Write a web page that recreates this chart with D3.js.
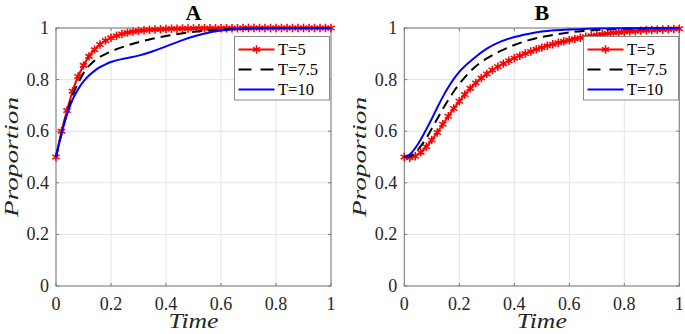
<!DOCTYPE html>
<html>
<head>
<meta charset="utf-8">
<script src="https://cdn.jsdelivr.net/npm/d3@7"></script>
<style>
  body { margin: 0; background: #fff; }
  svg { display: block; }
  text { font-family: "Liberation Serif", "Times New Roman", serif; }
</style>
</head>
<body>
<svg id="chart"></svg>
<script>
// time grid of the T=5 series (marker every step)
var tRed = [0,0.02,0.04,0.06,0.08,0.10,0.12,0.14,0.16,0.18,0.20,0.22,0.24,0.26,0.28,0.30,0.32,0.34,0.36,0.38,0.40,0.42,0.44,0.46,0.48,0.50,
  0.52,0.54,0.56,0.58,0.60,0.62,0.64,0.66,0.68,0.70,0.72,0.74,0.76,0.78,0.80,0.82,0.84,0.86,0.88,0.90,0.92,0.94,0.96,0.98,1.00];
// time grid of the T=7.5 and T=10 series
var tLine = [0,0.02,0.04,0.06,0.08,0.1,0.12,0.14,0.16,0.18,0.2,0.25,0.3,0.35,0.4,0.45,0.5,0.55,0.6,0.65,0.7,0.8,0.9,1];

var a_T5 = [0.500,0.600,0.680,0.755,0.812,0.855,0.890,0.916,0.936,0.951,0.962,0.970,0.977,0.982,0.986,0.989,0.991,0.993,0.994,0.995,0.996,0.997,0.997,0.998,0.998,0.998,
  0.999,0.999,0.999,0.999,0.999,0.999,0.999,0.999,1,1,1,1,1,1,1,1,1,1,1,1,1,1,1,1,1];
var a_T75 = [0.5,0.59,0.67,0.74,0.785,0.825,0.853,0.873,0.888,0.899,0.909,0.929,0.945,0.958,0.969,0.978,0.985,0.990,0.994,0.997,0.998,1,1,1];
var a_T10 = [0.5,0.59,0.665,0.722,0.762,0.793,0.816,0.834,0.848,0.859,0.868,0.882,0.893,0.909,0.929,0.949,0.967,0.981,0.990,0.995,0.998,1,1,1];

var b_T5 = [0.500,0.497,0.503,0.518,0.540,0.566,0.595,0.627,0.658,0.688,0.716,0.742,0.766,0.787,0.806,0.822,0.837,0.850,0.862,0.873,0.883,0.892,0.901,0.909,0.917,0.924,
  0.931,0.937,0.943,0.948,0.953,0.958,0.962,0.966,0.970,0.973,0.976,0.979,0.981,0.983,0.985,0.987,0.988,0.990,0.991,0.992,0.993,0.994,0.995,0.996,0.997];
var b_T75 = [0.5,0.503,0.518,0.542,0.573,0.61,0.648,0.686,0.721,0.754,0.783,0.842,0.882,0.911,0.934,0.952,0.965,0.975,0.983,0.988,0.992,0.997,0.999,1];
var b_T10 = [0.5,0.51,0.535,0.568,0.607,0.648,0.692,0.733,0.770,0.803,0.830,0.880,0.920,0.947,0.965,0.977,0.986,0.991,0.994,0.996,0.998,0.999,1,1];

var ticks = [0, 0.2, 0.4, 0.6, 0.8, 1];
var tickLabels = ['0', '0.2', '0.4', '0.6', '0.8', '1'];
var seriesNames = ['T=5', 'T=7.5', 'T=10'];
var panelTitles = ['A', 'B'];

var W = 685, H = 334;
var svg = d3.select('#chart').attr('width', W).attr('height', H);

// six-armed asterisk marker
function star(r) {
  var c = r * 0.866, s = r / 2;
  return 'M0,' + (-r) + 'L0,' + r +
         'M' + (-c) + ',' + (-s) + 'L' + c + ',' + s +
         'M' + (-c) + ',' + s + 'L' + c + ',' + (-s);
}

function panel(opt) {
  var x = d3.scaleLinear().domain([0, 1]).range([opt.x0, opt.x1]);
  var y = d3.scaleLinear().domain([0, 1]).range([286, 28]);
  var g = svg.append('g');

  // grid
  g.selectAll('.gx').data(ticks).enter().append('line')
    .attr('x1', function (d) { return x(d); }).attr('x2', function (d) { return x(d); })
    .attr('y1', y(0)).attr('y2', y(1))
    .attr('stroke', '#e3e3e3').attr('stroke-width', 1);
  g.selectAll('.gy').data(ticks).enter().append('line')
    .attr('y1', function (d) { return y(d); }).attr('y2', function (d) { return y(d); })
    .attr('x1', x(0)).attr('x2', x(1))
    .attr('stroke', '#e3e3e3').attr('stroke-width', 1);

  // box
  g.append('rect')
    .attr('x', x(0)).attr('y', y(1))
    .attr('width', x(1) - x(0)).attr('height', y(0) - y(1))
    .attr('fill', 'none').attr('stroke', '#7a7a7a').attr('stroke-width', 1);

  // inward ticks, all four sides
  var tl = 3;
  ticks.forEach(function (d) {
    g.append('line').attr('x1', x(d)).attr('x2', x(d)).attr('y1', y(0)).attr('y2', y(0) - tl).attr('stroke', '#7a7a7a');
    g.append('line').attr('x1', x(d)).attr('x2', x(d)).attr('y1', y(1)).attr('y2', y(1) + tl).attr('stroke', '#7a7a7a');
    g.append('line').attr('y1', y(d)).attr('y2', y(d)).attr('x1', x(0)).attr('x2', x(0) + tl).attr('stroke', '#7a7a7a');
    g.append('line').attr('y1', y(d)).attr('y2', y(d)).attr('x1', x(1)).attr('x2', x(1) - tl).attr('stroke', '#7a7a7a');
  });

  // tick labels
  g.selectAll('.xl').data(ticks).enter().append('text')
    .attr('x', function (d) { return x(d); }).attr('y', 310)
    .attr('text-anchor', 'middle')
    .style('font-size', '18px').attr('fill', '#262626')
    .text(function (d, i) { return tickLabels[i]; });
  g.selectAll('.yl').data(ticks).enter().append('text')
    .attr('x', x(0) - 7).attr('y', function (d) { return y(d) + 6; })
    .attr('text-anchor', 'end')
    .style('font-size', '18px').attr('fill', '#262626')
    .text(function (d, i) { return tickLabels[i]; });

  // axis labels
  g.append('text')
    .attr('x', (x(0) + x(1)) / 2).attr('y', 328)
    .attr('text-anchor', 'middle')
    .attr('textLength', 50).attr('lengthAdjust', 'spacingAndGlyphs')
    .style('font-size', '21px').style('font-style', 'italic')
    .attr('fill', '#262626').text('Time');
  g.append('text')
    .attr('transform', 'translate(' + (x(0) - 38) + ',' + ((y(0) + y(1)) / 2) + ') rotate(-90)')
    .attr('text-anchor', 'middle')
    .attr('textLength', 120).attr('lengthAdjust', 'spacingAndGlyphs')
    .style('font-size', '19px').style('font-style', 'italic')
    .attr('fill', '#262626').text('Proportion');

  // title
  g.append('text')
    .attr('x', (x(0) + x(1)) / 2).attr('y', 20)
    .attr('text-anchor', 'middle')
    .style('font-size', '22px').style('font-weight', 'bold')
    .attr('fill', '#000').text(opt.title);

  var line = d3.line()
    .x(function (d) { return x(d[0]); })
    .y(function (d) { return y(d[1]); })
    .curve(d3.curveMonotoneX);

  var red = tRed.map(function (t, i) { return [t, opt.s5[i]]; });
  var black = tLine.map(function (t, i) { return [t, opt.s75[i]]; });
  var blue = tLine.map(function (t, i) { return [t, opt.s10[i]]; });

  g.append('path').datum(red).attr('d', line)
    .attr('fill', 'none').attr('stroke', '#ff0000').attr('stroke-width', 2);
  g.selectAll('.mk').data(red).enter().append('path')
    .attr('transform', function (d) { return 'translate(' + x(d[0]) + ',' + y(d[1]) + ')'; })
    .attr('d', star(4.2))
    .attr('fill', 'none').attr('stroke', '#ff0000').attr('stroke-width', 1.6);
  g.append('path').datum(black).attr('d', line)
    .attr('fill', 'none').attr('stroke', '#000').attr('stroke-width', 2)
    .attr('stroke-dasharray', '10,6');
  g.append('path').datum(blue).attr('d', line)
    .attr('fill', 'none').attr('stroke', '#0000ff').attr('stroke-width', 2);

  // legend
  var lx = opt.lx, lw = 95;
  var lg = g.append('g');
  lg.append('rect').attr('x', lx).attr('y', 36.5).attr('width', lw).attr('height', 63.5)
    .attr('fill', '#fff').attr('stroke', '#8a8a8a').attr('stroke-width', 1);
  var rows = [49.5, 69.5, 89.5];
  var styles = [
    { c: '#ff0000', dash: null, mk: true },
    { c: '#000', dash: '13,9', mk: false },
    { c: '#0000ff', dash: null, mk: false }
  ];
  seriesNames.forEach(function (name, i) {
    var st = styles[i];
    var l = lg.append('line').attr('x1', lx + 4).attr('x2', lx + 40)
      .attr('y1', rows[i]).attr('y2', rows[i])
      .attr('stroke', st.c).attr('stroke-width', 2);
    if (st.dash) l.attr('stroke-dasharray', st.dash);
    if (st.mk) {
      lg.append('path').attr('transform', 'translate(' + (lx + 22) + ',' + rows[i] + ')')
        .attr('d', star(4.2)).attr('fill', 'none').attr('stroke', st.c).attr('stroke-width', 1.6);
    }
    lg.append('text').attr('x', lx + 43.5).attr('y', rows[i] + 5.5)
      .style('font-size', '16.5px').attr('fill', '#000')
      .text(name);
  });
}

panel({ x0: 56, x1: 331, s5: a_T5, s75: a_T75, s10: a_T10, lx: 234.5, title: panelTitles[0] });
panel({ x0: 404.3, x1: 679.3, s5: b_T5, s75: b_T75, s10: b_T10, lx: 583.5, title: panelTitles[1] });
</script>
</body>
</html>
